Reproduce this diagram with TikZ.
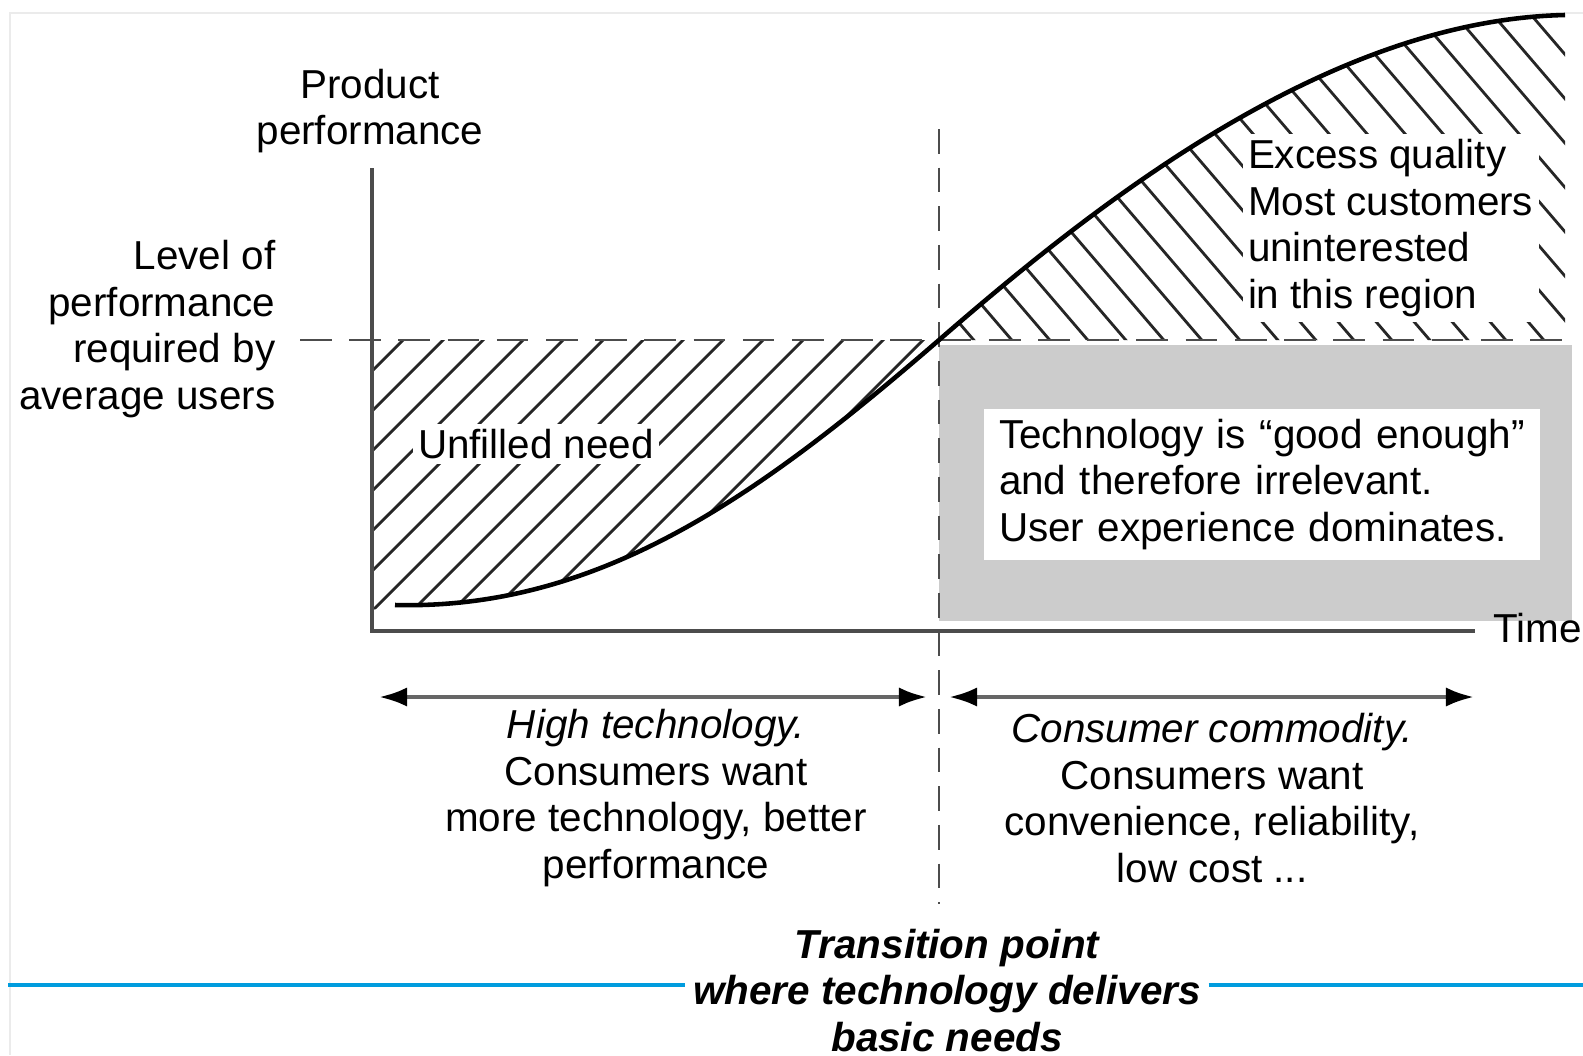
\documentclass[tikz,border=0pt]{standalone}
\usepackage{fontspec}
\setmainfont{Liberation Sans}
\usetikzlibrary{arrows.meta}
\definecolor{lineblue}{RGB}{0,156,222}
\begin{document}
\begin{tikzpicture}
	\tikzstyle{txt}=[font=\fontsize{11.5}{13.2}\selectfont,inner sep=0pt]
	\tikzstyle{hatch}=[line width=0.8pt,black!85]
	\tikzstyle{axis}=[line width=1.1pt,black!70]
	\tikzstyle{guide}=[line width=0.8pt,black!70,dash pattern=on 9pt off 5pt]
	\tikzstyle{spanarrow}=[line width=1.2pt,black!60,{Latex[length=8pt,width=5.5pt,color=black]}-{Latex[length=8pt,width=5.5pt,color=black]}]

	\useasboundingbox (0,0) rectangle (15.83,10.55);
	\draw[black!8,line width=0.4pt] (0.1,0) -- (0.1,10.42) -- (15.83,10.42);

	\coordinate (origin) at (3.72,4.24);
	\coordinate (ytop) at (3.72,8.87);
	\coordinate (lvl) at (3.0,7.15);
	\coordinate (lvr) at (15.65,7.15);
	\coordinate (tp) at (9.39,7.15);
	\coordinate (cs) at (3.95,4.50);
	\coordinate (ce) at (15.65,10.40);
	\coordinate (vt) at (9.39,9.26);
	\coordinate (vb) at (9.39,1.51);

	%%% hatching under the required level
	\begin{scope}
		\clip (3.72,4.45) -- (cs) .. controls (6.0,4.45) and (7.6,5.6) .. (tp) -- (3.72,7.15) -- cycle;
		\foreach \i in {0,...,23}
			\draw[hatch] ({0.78+0.4*\i},4.3) -- ++(3,3);
	\end{scope}

	%%% hatching above the required level
	\begin{scope}
		\clip (tp) .. controls (11.0,8.55) and (13.3,10.35) .. (ce) -- (15.65,7.15) -- cycle;
		\foreach \i in {0,...,28}
			\draw[hatch] ({5.26+0.38*\i},10.6) -- ++(3,-3.5);
	\end{scope}

	%%% good enough region
	\node[fill=black!20, minimum width=6.33cm, minimum height=2.76cm, inner sep=0pt] (good) at (12.555,5.72) {};
	\node[txt, fill=white, text width=5.26cm, align=left, inner xsep=0.15cm, inner ysep=0.1cm] (goodtxt) at (12.62,5.705) {Technology is ``good enough''\\and therefore irrelevant.\\User experience dominates.};

	\node[txt, fill=white, align=left, inner sep=1.5pt, anchor=west] (excess) at (12.42,8.27) {Excess quality\\Most customers\\uninterested\\in this region};
	\node[txt, fill=white, inner sep=1.5pt] (unfilled) at (5.36,6.11) {Unfilled need};

	%%% axes, levels and the curve
	\node[txt, align=center] (prod) at (3.70,9.44) {Product\\performance};
	\node[txt, align=right, anchor=east] (level) at (2.76,7.26) {Level of\\performance\\required by\\average users};
	\node[txt, anchor=west, inner xsep=0.18cm] (time) at (14.75,4.27) {Time};

	\draw[guide] (lvl) -- (lvr);
	\draw[guide, dash pattern=on 7pt off 4pt] (vt) -- (vb);
	\draw[axis] (ytop) -- (origin) -- (origin -| time.west);
	\draw[line width=1.3pt] (cs) .. controls (6.0,4.45) and (7.6,5.6) .. (tp) .. controls (11.0,8.55) and (13.3,10.35) .. (ce);

	%%% the two periods
	\coordinate (hl) at (3.79,3.58);
	\coordinate (hr) at (9.27,3.58);
	\coordinate (cl) at (9.49,3.58);
	\coordinate (cr) at (14.74,3.58);
	\draw[spanarrow] (hl) -- (hr);
	\draw[spanarrow] (cl) -- (cr);

	\node[txt, align=center] (hightech) at (6.56,2.57) {\textit{High technology.}\\Consumers want\\more technology, better\\performance};
	\node[txt, align=center] (commod) at (12.12,2.57) {\textit{Consumer commodity.}\\Consumers want\\convenience, reliability,\\low cost ...};

	%%% transition point
	\node[txt, font=\fontsize{11.5}{13.2}\selectfont\bfseries\itshape, align=center, fill=white, inner xsep=2pt] (trans) at (9.47,0.645) {Transition point\\where technology delivers\\basic needs};

	\coordinate (bl) at (0.08,0.70);
	\coordinate (br) at (15.83,0.70);
	\draw[lineblue, line width=1.2pt] (bl) -- (bl -| trans.west);
	\draw[lineblue, line width=1.2pt] (trans.east |- br) -- (br);
\end{tikzpicture}
\end{document}
